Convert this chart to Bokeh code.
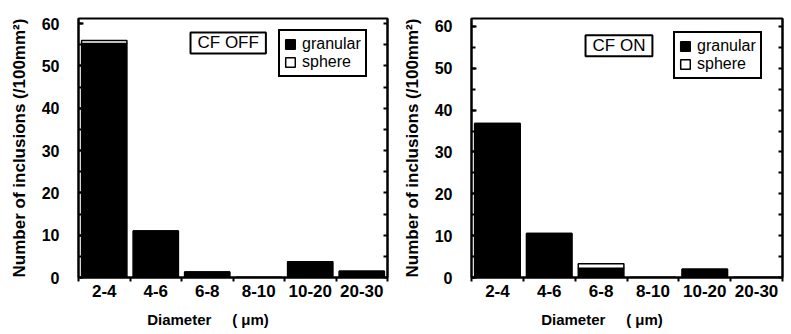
from bokeh.plotting import figure
from bokeh.models import (ColumnDataSource, Range1d, FixedTicker, LinearAxis, Label,
                          Legend, LegendItem)
from bokeh.layouts import row
from bokeh.embed import file_html
from bokeh.resources import INLINE

categories = ["2-4", "4-6", "6-8", "8-10", "10-20", "20-30"]
off_granular = [55.3, 11.0, 1.3, 0.0, 3.7, 1.5]
off_sphere = [0.7, 0.0, 0.0, 0.0, 0.0, 0.0]
on_granular = [36.8, 10.5, 2.2, 0.0, 2.0, 0.0]
on_sphere = [0.0, 0.0, 1.1, 0.0, 0.0, 0.0]
y_ticks = [0, 10, 20, 30, 40, 50, 60]
y_minor = [0, 5, 10, 15, 20, 25, 30, 35, 40, 45, 50, 55, 60]

FONT = "Liberation Sans"
NB = "\u00a0"


def make_panel(title, granular, sphere, width, height, ymax, bl, br, bt, bb, box_x, box_y, leg_loc):
    n = len(categories)
    centers = [i + 0.5 for i in range(n)]
    bounds = list(range(n + 1))
    tops = [g + s for g, s in zip(granular, sphere)]
    src = ColumnDataSource(dict(x=centers, g=granular, top=tops))

    p = figure(width=width, height=height, output_backend="svg", toolbar_location=None,
               x_range=Range1d(0, n), y_range=Range1d(0, ymax),
               min_border_left=bl, min_border_right=br, min_border_top=bt, min_border_bottom=bb)
    p.xgrid.visible = False
    p.ygrid.visible = False
    p.outline_line_color = "black"
    p.outline_line_width = 2
    p.background_fill_color = "white"
    p.border_fill_color = "white"

    r1 = p.vbar(x="x", top="g", bottom=0, width=0.88, source=src,
                fill_color="black", line_color="black", line_width=1.5)
    r2 = p.vbar(x="x", top="top", bottom="g", width=0.88, source=src,
                fill_color="white", line_color="black", line_width=1.5)

    xa = p.xaxis[0]
    xa.ticker = FixedTicker(ticks=centers, minor_ticks=bounds)
    xa.major_label_overrides = {c: lab for c, lab in zip(centers, categories)}
    xa.major_tick_line_color = None
    xa.major_tick_in = 0
    xa.major_tick_out = 4
    xa.minor_tick_in = 0
    xa.minor_tick_out = 4
    xa.minor_tick_line_width = 2
    xa.axis_line_width = 2
    xa.major_label_standoff = 3
    xa.major_label_text_font = FONT
    xa.major_label_text_font_style = "bold"
    xa.major_label_text_font_size = "17px"
    xa.major_label_text_color = "black"
    xa.axis_label = "Diameter" + NB * 5 + "(" + NB + "\u03bcm)" + NB * 12
    xa.axis_label_text_font = FONT
    xa.axis_label_text_font_style = "bold"
    xa.axis_label_text_font_size = "15px"
    xa.axis_label_text_color = "black"
    xa.axis_label_standoff = 11

    ya = p.yaxis[0]
    ya.ticker = FixedTicker(ticks=y_ticks, minor_ticks=y_minor)
    ya.major_tick_in = 5
    ya.major_tick_out = 0
    ya.minor_tick_in = 4
    ya.minor_tick_out = 0
    ya.major_tick_line_width = 2
    ya.minor_tick_line_width = 2
    ya.axis_line_width = 2
    ya.major_label_standoff = 19
    ya.major_label_text_font = FONT
    ya.major_label_text_font_style = "bold"
    ya.major_label_text_font_size = "16px"
    ya.major_label_text_color = "black"
    ya.axis_label = "Number of inclusions (/100mm\u00b2)"
    ya.axis_label_text_font = FONT
    ya.axis_label_text_font_style = "bold"
    ya.axis_label_text_font_size = "17px"
    ya.axis_label_text_color = "black"
    ya.axis_label_standoff = 10

    ra = LinearAxis(ticker=FixedTicker(ticks=[], minor_ticks=y_minor))
    ra.minor_tick_in = 4
    ra.minor_tick_out = 0
    ra.minor_tick_line_width = 2
    ra.major_tick_line_color = None
    ra.axis_line_width = 2
    p.add_layout(ra, "right")

    lab = Label(x=box_x, y=box_y, text=title, text_align="left", text_baseline="top",
                text_font=FONT, text_font_size="17px", text_color="black",
                border_line_color="black", border_line_width=2, border_line_alpha=1,
                background_fill_color="white", padding=(7, 7, 1, 1))
    p.add_layout(lab)

    leg = Legend(items=[LegendItem(label="granular", renderers=[r1]),
                        LegendItem(label="sphere", renderers=[r2])],
                 location=leg_loc, orientation="vertical",
                 border_line_color="black", border_line_width=2, border_line_alpha=1,
                 background_fill_color="white", background_fill_alpha=1,
                 padding=4, spacing=0, margin=0, label_height=16, glyph_height=12,
                 glyph_width=12, label_standoff=6, label_text_font=FONT,
                 label_text_font_size="16px", label_text_color="black")
    p.add_layout(leg, "center")
    return p


p1 = make_panel("CF OFF", off_granular, off_sphere, 395, 334, 61.2, 78, 8, 18, 55,
                2.175, 57.9, (200, 200))
p2 = make_panel("CF ON", on_granular, on_sphere, 396, 334, 61.9, 76, 9, 15, 57,
                2.2, 57.9, (202, 198))

layout = row(p1, p2)
open("out.html", "w").write(file_html(layout, INLINE))
